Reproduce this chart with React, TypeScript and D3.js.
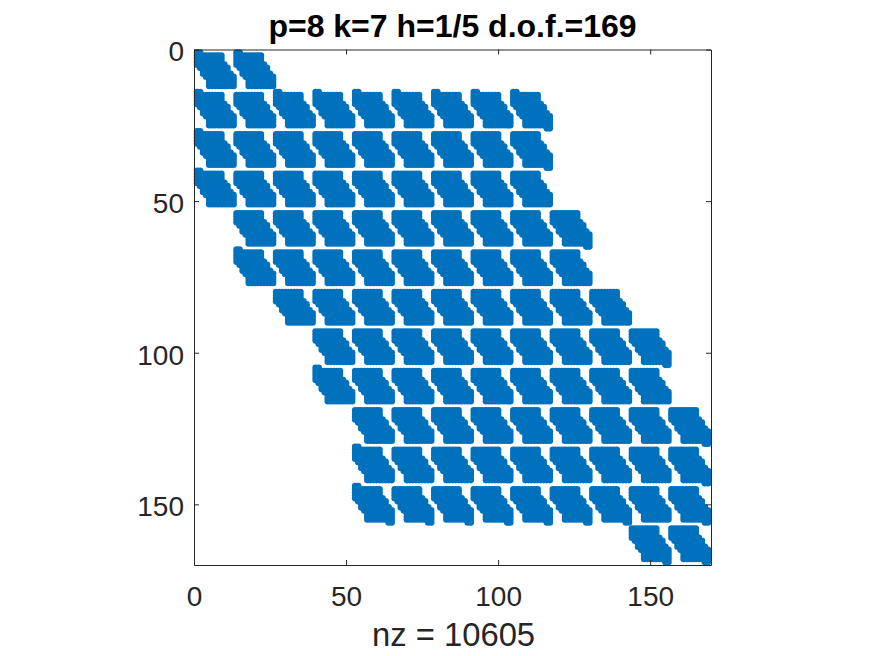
import { useEffect, useRef } from 'react';
import * as d3 from 'd3';

const titleText = 'p=8 k=7 h=1/5 d.o.f.=169';
const xLabelText = 'nz = 10605';
const axisTicks = [0, 50, 100, 150];
const axisMax = 170;
const blockSize = 13;

// first and last block column occupied in each block row
const blockRowFirst = [0, 0, 0, 0, 1, 1, 2, 3, 3, 4, 4, 4, 11];
const blockRowLast = [1, 8, 8, 8, 9, 9, 10, 11, 11, 12, 12, 12, 12];

// nonzero span inside a 13x13 block, one entry per local row (1..13), 0 = empty row
const localFrom = [0, 1, 1, 1, 1, 2, 3, 3, 4, 5, 5, 5, 0];
const localTo = [0, 9, 9, 9, 10, 11, 11, 12, 13, 13, 13, 13, 0];

// blocks whose corner entries stick out: [block row, block col]
const cornerBlocks = [
  [0, 0], [0, 1], [1, 0], [1, 2], [1, 3], [1, 4], [1, 5], [1, 6], [1, 7], [1, 8],
  [2, 0], [3, 0], [5, 1], [8, 3], [10, 4], [11, 4],
];
const cornerCols = [1, 2];

const W = 875;
const H = 656;
const margin = { top: 49.5, right: 164, bottom: 91, left: 194 };
const blue = '#0072BD';
const ink = '#262626';

export default function App() {
  const svgRef = useRef<SVGSVGElement>(null);

  useEffect(() => {
    if (!svgRef.current) return;
    const svg = d3.select(svgRef.current);
    svg.selectAll('*').remove();

    const width = W - margin.left - margin.right;
    const height = H - margin.top - margin.bottom;

    const x = d3.scaleLinear().domain([0, axisMax]).range([0, width]);
    const y = d3.scaleLinear().domain([0, axisMax]).range([0, height]);

    // Collect nonzeros
    const pts: [number, number][] = [];
    blockRowFirst.forEach((first, bi) => {
      for (let bj = first; bj <= blockRowLast[bi]; bj++) {
        localFrom.forEach((from, r) => {
          if (!from) return;
          for (let c = from; c <= localTo[r]; c++) {
            pts.push([bj * blockSize + c, bi * blockSize + r + 1]);
          }
        });
      }
    });
    cornerBlocks.forEach(([bi, bj]) => {
      cornerCols.forEach(c => {
        pts.push([bj * blockSize + c, bi * blockSize + 1]);
        // the pattern is point-symmetric
        pts.push([(12 - bj) * blockSize + 14 - c, (12 - bi) * blockSize + 13]);
      });
    });

    const g = svg.append('g').attr('transform', `translate(${margin.left},${margin.top})`);

    g.append('g')
      .selectAll('circle')
      .data(pts)
      .enter().append('circle')
      .attr('cx', d => x(d[0]))
      .attr('cy', d => y(d[1]))
      .attr('r', 3.3)
      .attr('fill', blue);

    const style = (sel: any) => {
      sel.select('.domain').attr('stroke', ink).attr('stroke-width', 1);
      sel.selectAll('.tick line').attr('stroke', ink).attr('stroke-width', 1);
      sel.selectAll('text')
        .attr('fill', ink)
        .attr('font-size', '28px')
        .attr('font-family', 'Liberation Sans, Arial, sans-serif');
    };

    g.append('g')
      .attr('transform', `translate(0,${height})`)
      .call(d3.axisBottom(x).tickValues(axisTicks).tickSize(-5).tickSizeOuter(0).tickPadding(21))
      .call(style);
    g.append('g')
      .call(d3.axisLeft(y).tickValues(axisTicks).tickSize(-5).tickSizeOuter(0).tickPadding(10))
      .call(style)
      .call(a => a.selectAll('text').attr('dy', '0.41em'));
    g.append('g')
      .call(d3.axisTop(x).tickValues(axisTicks).tickSize(-5).tickSizeOuter(0).tickFormat(() => ''))
      .call(style);
    g.append('g')
      .attr('transform', `translate(${width},0)`)
      .call(d3.axisRight(y).tickValues(axisTicks).tickSize(-5).tickSizeOuter(0).tickFormat(() => ''))
      .call(style);

    svg.append('text')
      .attr('x', margin.left + width / 2)
      .attr('y', 37)
      .attr('text-anchor', 'middle')
      .attr('font-family', 'Liberation Sans, Arial, sans-serif')
      .attr('font-size', '32px')
      .attr('font-weight', 700)
      .attr('fill', '#000')
      .text(titleText);

    svg.append('text')
      .attr('x', margin.left + width / 2 + 1)
      .attr('y', 646)
      .attr('text-anchor', 'middle')
      .attr('font-family', 'Liberation Sans, Arial, sans-serif')
      .attr('font-size', '32.8px')
      .attr('fill', ink)
      .text(xLabelText);
  }, []);

  return (
    <svg
      ref={svgRef}
      width={W}
      height={H}
      style={{ position: 'absolute', left: 0, top: 0, display: 'block', background: '#fff' }}
    />
  );
}
